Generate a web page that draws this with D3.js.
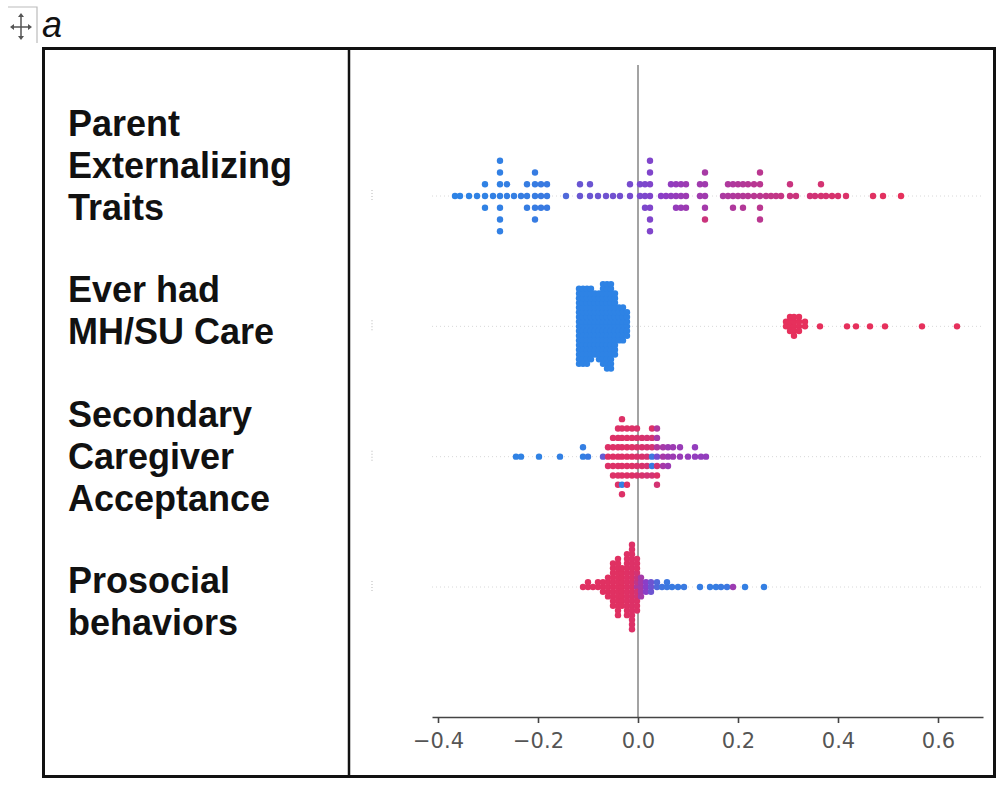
<!DOCTYPE html>
<html><head><meta charset="utf-8">
<script src="https://cdn.jsdelivr.net/npm/d3@7"></script>
<style>body{margin:0;background:#fff}</style></head>
<body><svg id="c" width="1000" height="785"></svg>
<script>
// ---------- data ----------
const features = ["Parent Externalizing Traits", "Ever had MH/SU Care", "Secondary Caregiver Acceptance", "Prosocial behaviors"];
const labelLines = [["Parent", "Externalizing", "Traits"], ["Ever had", "MH/SU Care"], ["Secondary", "Caregiver", "Acceptance"], ["Prosocial", "behaviors"]];
const xTicks = [-0.4, -0.2, 0.0, 0.2, 0.4, 0.6];
const panelLabel = "a";

// each group: [SHAP value, number of points in that bin, feature value (0 = low/blue, 1 = high/red), optional per-point feature values]
const parentExternalizing = [
  [-0.366,1,0.02],[-0.356,1,0.02],[-0.338,1,0.02],[-0.322,1,0.03],[-0.306,3,0.03],[-0.29,1,0.04],
  [-0.276,7,0.04],[-0.262,2,0.05],[-0.248,1,0.05],[-0.234,1,0.06],[-0.222,3,0.06],[-0.206,5,0.07],
  [-0.194,3,0.08],[-0.182,3,0.08],[-0.144,1,0.2],[-0.116,2,0.33],[-0.096,2,0.34],[-0.08,1,0.35],
  [-0.064,1,0.36],[-0.05,1,0.37],[-0.036,1,0.38],[-0.016,2,0.4],[0.004,2,0.42],[0.014,3,0.43],
  [0.024,7,0.45],[0.046,1,0.5],[0.056,1,0.52],[0.066,2,0.54],[0.076,3,0.56],[0.086,3,0.58],
  [0.096,3,0.6],[0.124,2,0.62],[0.134,5,0.64,[0.62,0.62,0.64,0.66,0.85]],[0.17,1,0.68],[0.18,2,0.7],[0.19,3,0.7],
  [0.2,2,0.72],[0.21,3,0.72],[0.22,2,0.74],[0.232,2,0.75],[0.244,5,0.76],[0.256,1,0.78],
  [0.266,1,0.8],[0.276,1,0.8],[0.286,1,0.82],[0.304,2,0.84],[0.316,1,0.85],[0.344,1,0.88],
  [0.354,1,0.88],[0.366,2,0.9],[0.376,1,0.9],[0.388,1,0.92],[0.4,1,0.92],[0.416,1,0.94],
  [0.47,1,0.97],[0.49,1,0.98],[0.526,1,1]
];
const everHadCare = [
  [-0.118,17,0.02],[-0.11,17,0.02],[-0.102,17,0.02],[-0.094,16,0.02],[-0.086,14,0.02],[-0.078,15,0.02],
  [-0.07,18,0.02],[-0.062,19,0.02],[-0.054,19,0.02],[-0.046,14,0.02],[-0.038,8,0.02],[-0.03,8,0.02],
  [-0.022,6,0.02],
  [0.296,2,1],[0.304,4,1],[0.312,5,1],[0.322,4,1],[0.334,2,1],[0.364,1,1],[0.418,1,1],[0.436,1,1],
  [0.464,1,1],[0.494,1,1],[0.568,1,1],[0.638,1,1]
];
const secondaryAcceptance = [
  [-0.244,1,0.03],[-0.234,1,0.03],[-0.198,1,0.03],[-0.156,1,0.04],[-0.11,2,0.05],[-0.1,1,0.08],
  [-0.07,1,0.3],[-0.06,3,0.95],[-0.05,5,0.95],[-0.04,7,0.95],
  [-0.032,9,0.95,[0.95,0.95,0.95,0.95,0.95,0.95,0.05,0.95,0.95]],
  [-0.022,7,0.95],[-0.012,6,0.95],[-0.002,6,0.93],[0.008,5,0.92],[0.018,5,0.9],
  [0.028,6,0.9,[0.1,0.9,0.08,0.9,0.9,0.95]],
  [0.038,7,0.7,[0.4,0.7,0.9,0.65,0.95,0.7,0.9]],
  [0.05,3,0.65],[0.06,3,0.6],[0.07,2,0.6],[0.084,2,0.58],[0.1,1,0.56],[0.114,2,0.55],
  [0.126,1,0.55],[0.136,1,0.55]
];
const prosocial = [
  [-0.11,1,0.97],[-0.1,2,0.97],[-0.09,1,0.97],[-0.08,2,0.97],[-0.07,3,0.97],[-0.06,5,0.97],
  [-0.05,10,0.97],[-0.04,13,0.97],[-0.032,9,0.97],[-0.022,14,0.96],[-0.012,19,0.95],
  [-0.002,12,0.85,[0.7,0.8,0.9,0.85,0.9,0.9,0.95,0.95,0.95,0.95,0.95,0.95]],
  [0.006,5,0.65],[0.016,3,0.5],[0.026,3,0.35],[0.038,2,0.2],[0.048,1,0.12],[0.058,2,0.1],
  [0.068,1,0.08],[0.08,1,0.08],[0.092,1,0.08],[0.124,1,0.06],[0.144,1,0.06],[0.156,1,0.06],
  [0.166,1,0.08],[0.178,1,0.1],[0.19,1,0.6],[0.214,1,0.05],[0.252,1,0.05]
];
const rows = [parentExternalizing, everHadCare, secondaryAcceptance, prosocial];

// ---------- drawing ----------
const svg = d3.select("#c");
const x = d3.scaleLinear().domain([-0.412, 0.69]).range([432, 983]);
const y = d3.scaleLinear().domain([0, 3]).range([196, 587]);
const color = d3.scaleLinear().domain([0, 0.5, 1]).range(["#2a86e6", "#8a3ec8", "#e6305c"]);

// panel label + move icon
const icon = svg.append("g");
icon.append("path").attr("d", "M8,7 H37 V43").attr("fill", "none").attr("stroke", "#bbb").attr("stroke-width", 1.2);
icon.append("path").attr("d", "M21,15 V38 M12,27 H30").attr("stroke", "#555").attr("stroke-width", 1.5);
icon.append("path").attr("d", "M21,13 l-3,4 h6 z M21,40 l-3,-4 h6 z M10,27 l4,-3 v6 z M32,27 l-4,-3 v6 z").attr("fill", "#555");
svg.append("text").attr("x", 42).attr("y", 37).attr("font-family", "Liberation Sans, Arial, sans-serif")
  .attr("font-style", "italic").attr("font-size", 36).attr("fill", "#111").text(panelLabel);

// frame
svg.append("rect").attr("x", 43.5).attr("y", 48.5).attr("width", 951).attr("height", 728)
  .attr("fill", "none").attr("stroke", "#111").attr("stroke-width", 3);
svg.append("line").attr("x1", 349).attr("x2", 349).attr("y1", 48).attr("y2", 777)
  .attr("stroke", "#111").attr("stroke-width", 2.5);

// row labels
const baselines = [[136, 178, 220], [302, 344], [427, 469, 511], [593, 635]];
labelLines.forEach((lines, i) => {
  lines.forEach((t, j) => {
    svg.append("text").attr("x", 68).attr("y", baselines[i][j])
      .attr("font-family", "Liberation Sans, Arial, sans-serif").attr("font-weight", "bold")
      .attr("font-size", 36).attr("fill", "#111").text(t);
  });
});

// dotted row guides
features.forEach((f, i) => {
  svg.append("line").attr("x1", 432).attr("x2", 983).attr("y1", y(i)).attr("y2", y(i))
    .attr("stroke", "#d8d8d8").attr("stroke-width", 1).attr("stroke-dasharray", "1,3");
  svg.append("line").attr("x1", 372).attr("x2", 372).attr("y1", y(i) - 6).attr("y2", y(i) + 6)
    .attr("stroke", "#d0d0d0").attr("stroke-width", 1.5).attr("stroke-dasharray", "1,2");
});

// zero line
svg.append("line").attr("x1", x(0)).attr("x2", x(0)).attr("y1", 65).attr("y2", 717)
  .attr("stroke", "#999").attr("stroke-width", 1.8);

// beeswarm dots
rows.forEach((groups, i) => {
  const pts = [];
  let maxL = 0;
  groups.forEach(g => {
    const [v, n, c, over] = g;
    for (let k = 0; k < n; k++) {
      const l = Math.ceil(k / 2) * (k % 2 ? 1 : -1);
      maxL = Math.max(maxL, Math.abs(l));
      pts.push({ v, l, c: over ? over[k] : c });
    }
  });
  const step = 0.36 / (maxL + 1) * (y(1) - y(0));
  svg.append("g").selectAll("circle").data(pts).join("circle")
    .attr("cx", d => x(d.v)).attr("cy", d => y(i) - d.l * step)
    .attr("r", 3.2).attr("fill", d => color(d.c));
});

// x axis
const ax = svg.append("g").attr("transform", "translate(0,717)")
  .call(d3.axisBottom(x).tickValues(xTicks).tickSize(6).tickSizeOuter(0).tickPadding(10)
    .tickFormat(d => d3.format(".1f")(d)));
ax.select(".domain").attr("stroke", "#444").attr("stroke-width", 1.6);
ax.selectAll(".tick line").attr("stroke", "#444").attr("stroke-width", 1.6);
ax.selectAll(".tick text").attr("font-family", "DejaVu Sans, sans-serif").attr("font-size", 21).attr("fill", "#555");
</script></body></html>
